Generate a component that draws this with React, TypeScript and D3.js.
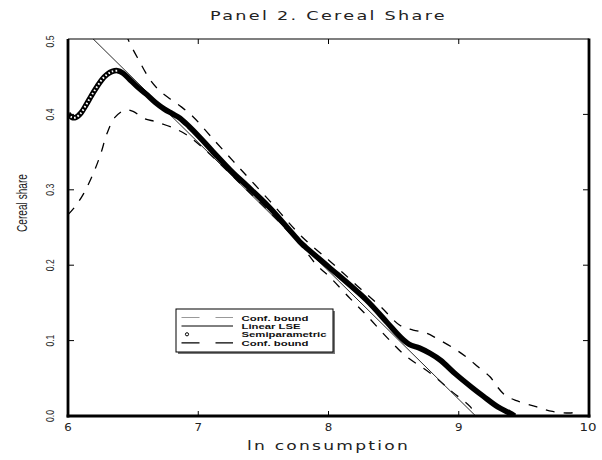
import React from "react";
import * as d3 from "d3";

const xTicks = [6, 7, 8, 9, 10];
const yTicks = [0.0, 0.1, 0.2, 0.3, 0.4, 0.5];
const innerXTicks = [7, 8, 9];
const innerYTicks = [0.1, 0.2, 0.3, 0.4];

const semiX = [6.0, 6.03, 6.06, 6.1, 6.14, 6.18, 6.22, 6.26, 6.3, 6.34, 6.38, 6.42, 6.47, 6.53, 6.6, 6.67, 6.74, 6.8, 6.86, 6.93, 7.01, 7.1, 7.27, 7.37, 7.55, 7.78, 7.82, 8.0, 8.29, 8.45, 8.55, 8.62, 8.7, 8.78, 8.86, 8.98, 9.1, 9.19, 9.3, 9.39, 9.43];
const semiY = [0.401, 0.396, 0.396, 0.402, 0.413, 0.425, 0.436, 0.446, 0.453, 0.457, 0.458, 0.455, 0.447, 0.437, 0.427, 0.416, 0.407, 0.401, 0.395, 0.384, 0.37, 0.353, 0.322, 0.306, 0.276, 0.231, 0.2245, 0.198, 0.154, 0.124, 0.105, 0.095, 0.09, 0.083, 0.074, 0.055, 0.038, 0.026, 0.012, 0.004, 0.0];

const upperX = [6.4, 6.46, 6.55, 6.63, 6.7, 6.78, 6.87, 6.96, 7.09, 7.3, 7.55, 7.8, 8.0, 8.11, 8.25, 8.4, 8.55, 8.65, 8.75, 8.83, 8.96, 9.06, 9.15, 9.24, 9.29, 9.36, 9.45, 9.6, 9.72, 9.85, 9.9];
const upperY = [0.53, 0.5, 0.47, 0.446, 0.432, 0.421, 0.41, 0.397, 0.372, 0.332, 0.285, 0.237, 0.207, 0.19, 0.168, 0.145, 0.12, 0.114, 0.11, 0.103, 0.09, 0.078, 0.065, 0.052, 0.04, 0.027, 0.02, 0.012, 0.006, 0.004, 0.005];

const lowerX = [6.0, 6.06, 6.12, 6.19, 6.25, 6.3, 6.36, 6.44, 6.5, 6.58, 6.68, 6.81, 6.91, 7.06, 7.3, 7.55, 7.8, 7.91, 8.0, 8.165, 8.29, 8.45, 8.59, 8.78, 8.95, 9.09, 9.13];
const lowerY = [0.267, 0.279, 0.295, 0.32, 0.347, 0.375, 0.396, 0.406, 0.404, 0.395, 0.39, 0.382, 0.373, 0.352, 0.312, 0.27, 0.224, 0.2, 0.186, 0.156, 0.134, 0.104, 0.08, 0.057, 0.032, 0.012, 0.0];

const linearX = [6.0, 9.13];
const linearY = [0.533, 0.0];

const legendLabels = ["Conf. bound", "Linear LSE", "Semiparametric", "Conf. bound"];
const legendWidths = [67, 59, 85, 67];

const titleText = "Panel 2. Cereal Share";
const xTitle = "ln consumption";
const yTitle = "Cereal share";

export default function App() {
  const left = 68, right = 589, top = 39, bottom = 416;
  const x = d3.scaleLinear().domain([6, 10]).range([left, right]);
  const y = d3.scaleLinear().domain([0, 0.5]).range([bottom, top]);
  const mk = (xs: number[], ys: number[], curve: any) =>
    d3
      .line<[number, number]>()
      .x((d) => x(d[0]))
      .y((d) => y(d[1]))
      .curve(curve)(xs.map((v, i) => [v, ys[i]] as [number, number])) || "";

  const semiPath = mk(semiX, semiY, d3.curveCatmullRom);
  const leftIdx = semiX.filter((v) => v <= 6.4).length;
  const semiLeftPath = mk(semiX.slice(0, leftIdx), semiY.slice(0, leftIdx), d3.curveCatmullRom);
  const upperPath = mk(upperX, upperY, d3.curveCatmullRom);
  const lowerPath = mk(lowerX, lowerY, d3.curveCatmullRom);
  const linPath = mk(linearX, linearY, d3.curveLinear);

  const font = "'Liberation Sans', Arial, sans-serif";
  const wide = "'DejaVu Sans', Verdana, sans-serif";
  const legX = 176, legY = 309, legW = 157, legH = 43;
  const rowY = [317.5, 326, 334.3, 342.8];

  return (
    <svg
      width={602}
      height={460}
      style={{ position: "absolute", left: 0, top: 0, background: "#fff" }}
      fontFamily={font}
    >
      <rect x={0} y={0} width={602} height={460} fill="#fff" />
      <defs>
        <clipPath id="plotclip">
          <rect x={left} y={top} width={right - left} height={bottom - top} />
        </clipPath>
      </defs>

      <text x={328.5} y={20} textAnchor="middle" fontSize={11.5} fontFamily={wide} letterSpacing={1.5}
        textLength={237} lengthAdjust="spacingAndGlyphs" fill="#222">
        {titleText}
      </text>

      <g clipPath="url(#plotclip)">
        <path d={upperPath} fill="none" stroke="#000" strokeWidth={1.3} strokeDasharray="9 9" />
        <path d={lowerPath} fill="none" stroke="#000" strokeWidth={1.3} strokeDasharray="9 9" />
        <path d={linPath} fill="none" stroke="#111" strokeWidth={0.9} />
        <path d={semiPath} fill="none" stroke="#000" strokeWidth={5.5} strokeLinejoin="round" />
        <path d={semiLeftPath} fill="none" stroke="#fff" strokeWidth={2} strokeDasharray="1.6 2.2" />
      </g>

      {/* frame */}
      <line x1={left} x2={right} y1={top} y2={top} stroke="#000" strokeWidth={1.2} />
      <line x1={left} x2={left} y1={top} y2={bottom + 1.5} stroke="#000" strokeWidth={2.8} />
      <line x1={left - 1.4} x2={right + 1.4} y1={bottom} y2={bottom} stroke="#000" strokeWidth={2.8} />
      <line x1={right} x2={right} y1={top - 0.6} y2={bottom + 1.4} stroke="#000" strokeWidth={2.8} />

      {innerXTicks.map((t) => (
        <g key={"xt" + t}>
          <line x1={x(t)} x2={x(t)} y1={bottom} y2={bottom - 5} stroke="#000" strokeWidth={1} />
          <line x1={x(t)} x2={x(t)} y1={top} y2={top + 5} stroke="#000" strokeWidth={1} />
        </g>
      ))}
      {innerYTicks.map((t) => (
        <g key={"yt" + t}>
          <line x1={left} x2={left + 6} y1={y(t)} y2={y(t)} stroke="#000" strokeWidth={1} />
          <line x1={right} x2={right - 6} y1={y(t)} y2={y(t)} stroke="#000" strokeWidth={1} />
        </g>
      ))}

      {xTicks.map((t) => (
        <text key={"xl" + t} x={x(t) + (t === 10 ? -1 : 0)} y={431} textAnchor="middle" fontSize={11} fontFamily={wide} fill="#222"
          textLength={t === 10 ? 17 : 7.5} lengthAdjust="spacingAndGlyphs">
          {String(t)}
        </text>
      ))}
      {yTicks.map((t) => (
        <text key={"yl" + t} transform={`translate(53.5, ${t === 0.5 ? y(t) + 2.5 : y(t)}) rotate(-90)`} textAnchor="middle"
          fontSize={11} fill="#222" textLength={12} lengthAdjust="spacingAndGlyphs">
          {t.toFixed(1)}
        </text>
      ))}

      <text x={328.5} y={450} textAnchor="middle" fontSize={11.5} fontFamily={wide} letterSpacing={1.5}
        textLength={163} lengthAdjust="spacingAndGlyphs" fill="#222">
        {xTitle}
      </text>
      <text transform="translate(27, 203) rotate(-90)" textAnchor="middle" fontSize={15} textLength={58}
        lengthAdjust="spacingAndGlyphs" fill="#222">
        {yTitle}
      </text>

      {/* legend */}
      <rect x={legX + 2} y={legY + 2} width={legW} height={legH} fill="#777" />
      <rect x={legX} y={legY} width={legW} height={legH} fill="#fff" stroke="#000" strokeWidth={1} />
      <line x1={181.5} x2={233} y1={rowY[0]} y2={rowY[0]} stroke="#999" strokeWidth={1.2} strokeDasharray="18 16" />
      <line x1={181.5} x2={233} y1={rowY[1]} y2={rowY[1]} stroke="#000" strokeWidth={1} />
      <circle cx={187} cy={rowY[2]} r={1.6} fill="none" stroke="#000" strokeWidth={1} />
      <line x1={181.5} x2={233} y1={rowY[3]} y2={rowY[3]} stroke="#000" strokeWidth={1.2} strokeDasharray="18 16" />
      {legendLabels.map((s, i) => (
        <text key={"lg" + i} x={241.5} y={rowY[i] + 3} fontSize={8} fontWeight="bold" fill="#111"
          textLength={legendWidths[i]} lengthAdjust="spacingAndGlyphs">
          {s}
        </text>
      ))}
    </svg>
  );
}
